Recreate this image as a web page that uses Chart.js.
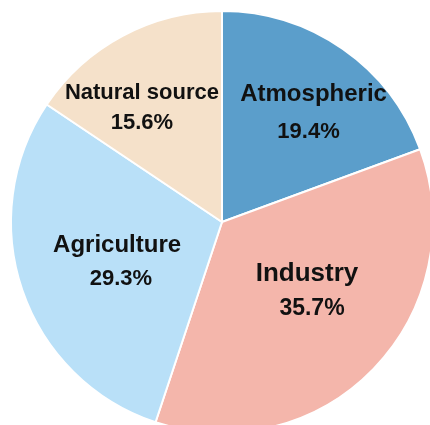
<!DOCTYPE html>
<html>
<head>
<meta charset="utf-8">
<script src="https://cdn.jsdelivr.net/npm/chart.js@4"></script>
<style>
  html, body { margin: 0; padding: 0; background: #ffffff; overflow: hidden; width: 430px; height: 425px; }
  #wrap { position: absolute; left: 0; top: 0; width: 444px; height: 444px; }
</style>
</head>
<body>
<div id="wrap"><canvas id="c" width="444" height="444"></canvas></div>
<script>
// ---- data ----
const categories = ["Atmospheric", "Industry", "Agriculture", "Natural source"];
const shares = [19.4, 35.7, 29.3, 15.6];
const percentLabels = ["19.4%", "35.7%", "29.3%", "15.6%"];

// ---- styles ----
const sliceColors = ["#5b9ecb", "#f4b6ab", "#b9e0f8", "#f5e1ca"];
// label placement relative to each slice: radius fraction, angle shift (deg), line offsets
const labelStyle = [
  { rf: 0.667, da: 4.6,  name: { dx: 2,    dy: -12.3, size: 24 }, pct: { dx: -3,  dy: 24.3, size: 22 } },
  { rf: 0.522, da: -7.4, name: { dx: -3.3, dy: -6.5,  size: 26 }, pct: { dx: 1.7, dy: 27.5, size: 23 } },
  { rf: 0.521, da: -0.9, name: { dx: -1.5, dy: -7.3,  size: 24 }, pct: { dx: 2.3, dy: 26,   size: 22 } },
  { rf: 0.667, da: -6.6, name: { dx: 0,    dy: -7.7,  size: 22 }, pct: { dx: 0,   dy: 23,   size: 22 } }
];

const sliceLabels = {
  id: 'sliceLabels',
  afterDatasetsDraw(chart) {
    const ctx = chart.ctx;
    const meta = chart.getDatasetMeta(0);
    meta.data.forEach((arc, i) => {
      const p = arc.getProps(['x', 'y', 'startAngle', 'endAngle', 'outerRadius'], true);
      const st = labelStyle[i];
      const mid = (p.startAngle + p.endAngle) / 2 + st.da * Math.PI / 180;
      const r = p.outerRadius * st.rf;
      const ax = p.x + Math.cos(mid) * r;
      const ay = p.y + Math.sin(mid) * r;
      ctx.save();
      ctx.fillStyle = '#111111';
      ctx.textAlign = 'center';
      ctx.textBaseline = 'alphabetic';
      ctx.font = 'bold ' + st.name.size + 'px "Liberation Sans", Arial, sans-serif';
      ctx.fillText(categories[i], ax + st.name.dx, ay + st.name.dy);
      ctx.font = 'bold ' + st.pct.size + 'px "Liberation Sans", Arial, sans-serif';
      ctx.fillText(percentLabels[i], ax + st.pct.dx, ay + st.pct.dy);
      ctx.restore();
    });
  }
};

new Chart(document.getElementById('c'), {
  type: 'pie',
  data: {
    labels: categories,
    datasets: [{
      data: shares,
      backgroundColor: sliceColors,
      borderColor: '#ffffff',
      borderWidth: 2
    }]
  },
  options: {
    responsive: false,
    animation: false,
    layout: { padding: 10 },
    plugins: {
      legend: { display: false },
      tooltip: { enabled: false }
    }
  },
  plugins: [sliceLabels]
});
</script>
</body>
</html>
